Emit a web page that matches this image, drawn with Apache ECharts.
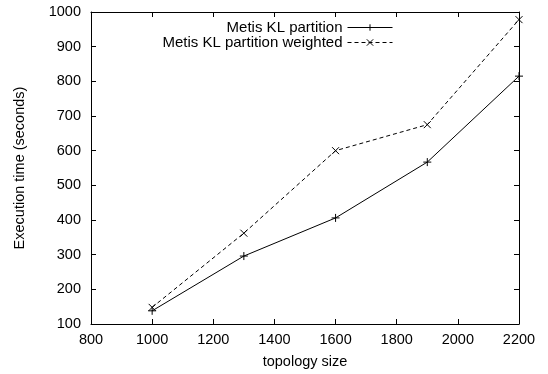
<!DOCTYPE html>
<html><head><meta charset="utf-8">
<script src="https://cdn.jsdelivr.net/npm/echarts@6/dist/echarts.min.js"></script>
<style>html,body{margin:0;padding:0;background:#fff}#c{width:548px;height:374px}</style>
</head><body><div id="c"></div>
<script>
const topologySize = [1000, 1300, 1600, 1900, 2200];
const klPartition = [138, 296, 406, 567, 815];
const klWeighted = [148, 362, 600, 675, 978];
const seriesNames = ['Metis KL partition', 'Metis KL partition weighted'];
const xTicks = {min: 800, max: 2200, interval: 200};
const yTicks = {min: 100, max: 1000, interval: 100};

const font = 'Liberation Sans, Arial, sans-serif';
const fs = 14.5;
const plus = 'path://M0,5L10,5M5,0L5,10';
const cross = 'path://M0,0L10,10M0,10L10,0';
function pairs(ys){ return topologySize.map((x,i)=>[x, ys[i]]); }
const chart = echarts.init(document.getElementById('c'), null, {renderer:'canvas'});
const axLine = {lineStyle:{color:'#000', width:1}};
const plain = v => String(v);
chart.setOption({
  animation:false,
  backgroundColor:'#fff',
  grid:{left:91, right:29, top:12, bottom:48},
  legend:{
    orient:'vertical', align:'right', right:150, top:15,
    itemWidth:45, itemHeight:8, itemGap:0,
    lineStyle:{width:1},
    itemStyle:{borderWidth:1},
    textStyle:{fontFamily:font, fontSize:15, color:'#000'},
    data:seriesNames
  },
  xAxis:[{
    type:'value', min:xTicks.min, max:xTicks.max, interval:xTicks.interval,
    name:'topology size', nameLocation:'middle', nameGap:30,
    nameTextStyle:{fontFamily:font, fontSize:fs, color:'#000'},
    axisLine:axLine, axisTick:{inside:true, length:5, lineStyle:{color:'#000'}},
    axisLabel:{fontFamily:font, fontSize:fs, color:'#000', margin:8, formatter:plain},
    splitLine:{show:false}
  },{
    type:'value', position:'top', min:xTicks.min, max:xTicks.max, interval:xTicks.interval,
    axisLine:axLine, axisTick:{inside:true, length:5, lineStyle:{color:'#000'}},
    axisLabel:{show:false}, splitLine:{show:false}
  }],
  yAxis:[{
    type:'value', min:yTicks.min, max:yTicks.max, interval:yTicks.interval,
    name:'Execution time (seconds)', nameLocation:'middle', nameGap:64, nameRotate:90,
    nameTextStyle:{fontFamily:font, fontSize:fs, color:'#000'},
    axisLine:axLine, axisTick:{inside:true, length:5, lineStyle:{color:'#000'}},
    axisLabel:{fontFamily:font, fontSize:fs, color:'#000', margin:10, formatter:plain},
    splitLine:{show:false}
  },{
    type:'value', position:'right', min:yTicks.min, max:yTicks.max, interval:yTicks.interval,
    axisLine:axLine, axisTick:{inside:true, length:5, lineStyle:{color:'#000'}},
    axisLabel:{show:false}, splitLine:{show:false}
  }],
  series:[{
    name:seriesNames[0], type:'line', data:pairs(klPartition),
    symbol:plus, symbolSize:8, showAllSymbol:true,
    lineStyle:{color:'#000', width:1},
    itemStyle:{color:'#000', borderColor:'#000', borderWidth:1}
  },{
    name:seriesNames[1], type:'line', data:pairs(klWeighted),
    symbol:cross, symbolSize:7, showAllSymbol:true,
    lineStyle:{color:'#000', width:1, type:[4,3]},
    itemStyle:{color:'#000', borderColor:'#000', borderWidth:1}
  }]
});
</script></body></html>
